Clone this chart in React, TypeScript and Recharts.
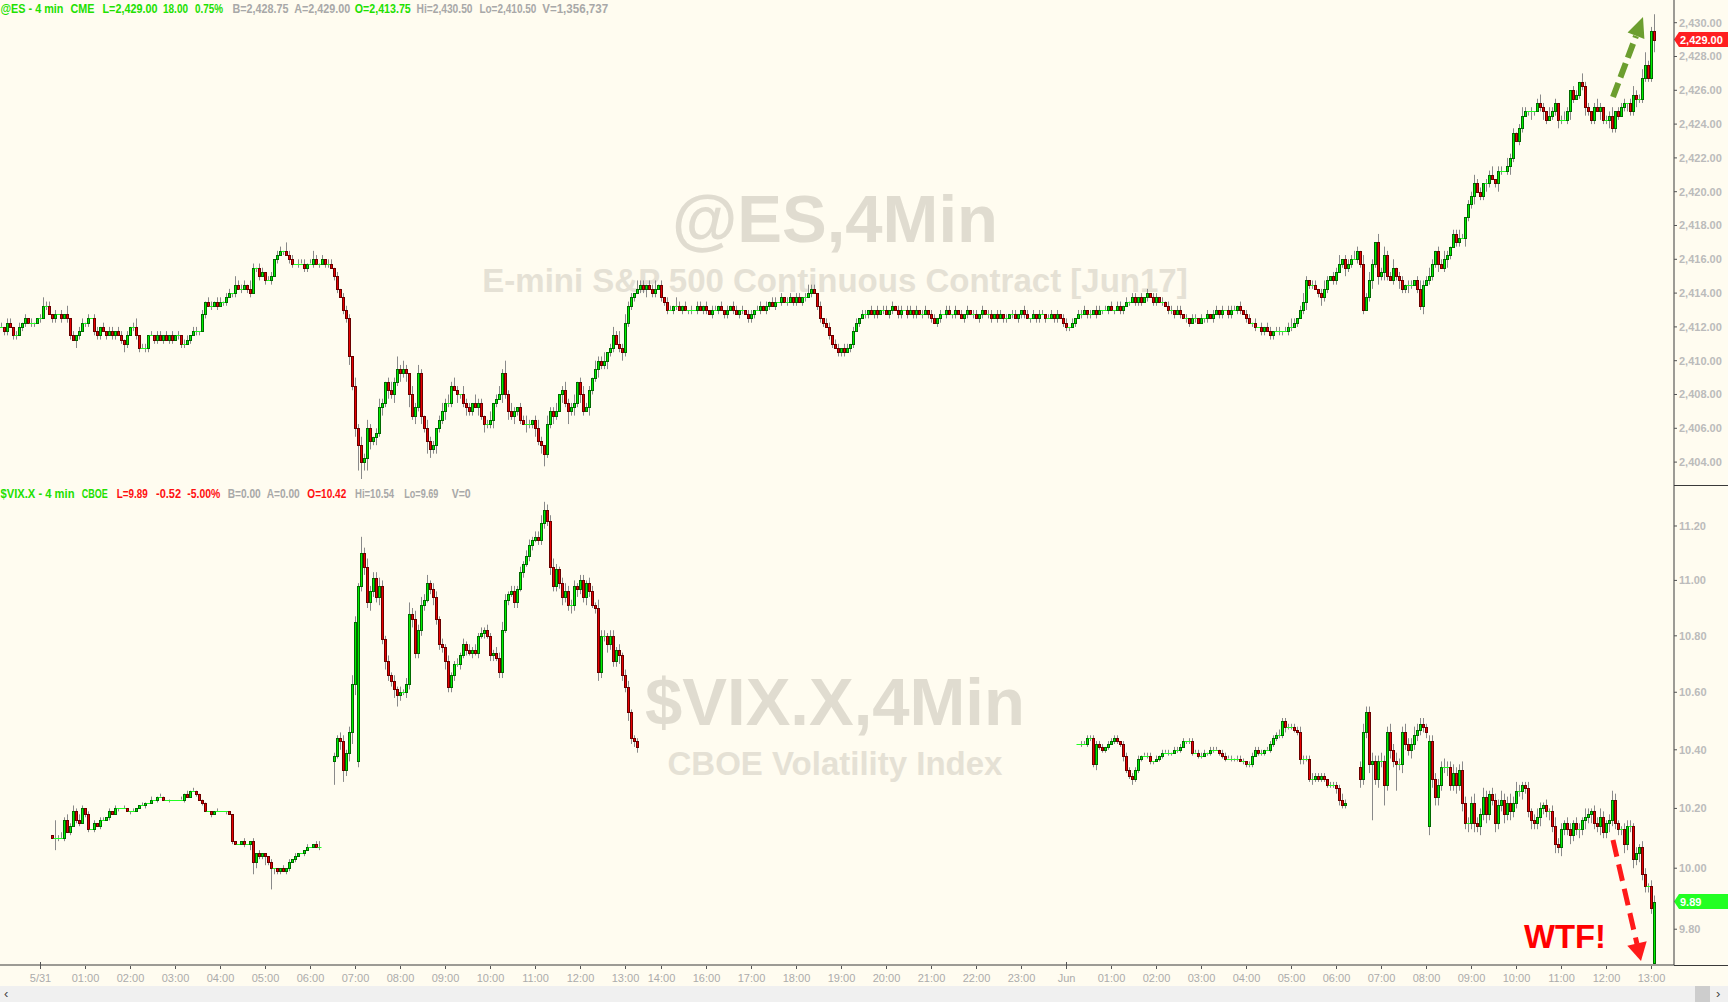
import React from 'react';
import { ComposedChart, Bar, XAxis, YAxis, ReferenceLine } from 'recharts';

// ---------------- DATA ----------------
// time slots: one slot = one 4-minute bar; slot 0 = 5/31 00:00
const xTickSlots = [0, 15, 30, 45, 60, 75, 90, 105, 120, 135, 150, 165, 180, 195, 207, 222, 237, 252, 267, 282, 297, 312, 327, 342, 357, 372, 387, 402, 417, 432, 447, 462, 477, 492, 507, 522, 537];
const xTickLabels = ['5/31', '01:00', '02:00', '03:00', '04:00', '05:00', '06:00', '07:00', '08:00', '09:00', '10:00', '11:00', '12:00', '13:00', '14:00', '16:00', '17:00', '18:00', '19:00', '20:00', '21:00', '22:00', '23:00', 'Jun', '01:00', '02:00', '03:00', '04:00', '05:00', '06:00', '07:00', '08:00', '09:00', '10:00', '11:00', '12:00', '13:00'];
const dayTickLabels = ['5/31', 'Jun'];

const esTicks = [2404, 2406, 2408, 2410, 2412, 2414, 2416, 2418, 2420, 2422, 2424, 2426, 2428, 2430];
const vixTicks = [9.8, 10.0, 10.2, 10.4, 10.6, 10.8, 11.0, 11.2];

// @ES 4-min bars: closes (open = previous close), wicks in 0.25 ticks
const esFirstSlot = -13;
const esFirstOpen = 2412.0;
const esClose = [
  2412, 2411.75, 2412.25, 2412, 2411.5, 2411.5, 2412, 2412.25, 2412.5, 2412.25,
  2412.25, 2412.25, 2412.5, 2412.5, 2413.25, 2413.25, 2412.75, 2412.5, 2412.75, 2412.75,
  2412.5, 2412.75, 2412.5, 2411.5, 2411.25, 2411.5, 2411.75, 2412.25, 2412.25, 2412.5,
  2412.5, 2411.75, 2411.5, 2412, 2411.75, 2411.5, 2411.75, 2411.5, 2411.75, 2411.5,
  2411.25, 2411, 2411.5, 2412, 2412, 2411.5, 2410.75, 2410.75, 2410.75, 2411.5,
  2411.5, 2411.25, 2411.5, 2411.25, 2411.5, 2411.25, 2411.5, 2411.25, 2411.5, 2411.5,
  2411, 2411, 2411.25, 2411.5, 2411.75, 2411.75, 2411.75, 2412.75, 2413.5, 2413.25,
  2413.25, 2413.5, 2413.25, 2413.5, 2413.5, 2413.75, 2414, 2414, 2414.5, 2414.25,
  2414.25, 2414.5, 2414.25, 2414, 2415.5, 2415.5, 2415, 2415.25, 2414.75, 2414.75,
  2415, 2416, 2416.25, 2416.5, 2416.5, 2416.25, 2416, 2415.75, 2415.75, 2415.75,
  2415.75, 2415.5, 2415.75, 2415.75, 2416, 2415.75, 2415.75, 2416, 2415.75, 2415.75,
  2415.5, 2415, 2414.25, 2413.75, 2413, 2412.5, 2410.25, 2408.5, 2406, 2405,
  2404, 2404.25, 2406, 2405.25, 2405.5, 2405.75, 2407.25, 2407.5, 2408.75, 2408.25,
  2408, 2408.75, 2409.5, 2409.25, 2409.5, 2409.25, 2408, 2406.75, 2407.25, 2409.25,
  2406.75, 2406, 2405.25, 2404.75, 2405, 2406, 2406.5, 2407, 2407.5, 2407.5,
  2408.5, 2408.25, 2408, 2408, 2407.5, 2407.25, 2407, 2407.5, 2407.25, 2407.5,
  2406.75, 2406.25, 2406.25, 2406.5, 2407.5, 2407.75, 2408, 2409.25, 2408, 2407,
  2406.75, 2407, 2407.25, 2406.5, 2406.25, 2406.25, 2406.25, 2406.5, 2406, 2405.25,
  2405, 2404.5, 2406.25, 2407, 2406.75, 2407, 2408, 2408.25, 2407.5, 2407,
  2407.25, 2407.5, 2408.75, 2408, 2407, 2407.25, 2408.25, 2409, 2409.5, 2410,
  2409.75, 2410, 2410.5, 2410.75, 2411.5, 2411, 2410.75, 2410.5, 2412.25, 2413.25,
  2413.75, 2414, 2414.25, 2414.5, 2414.25, 2414.5, 2414.25, 2414, 2414.25, 2414.5,
  2413.75, 2413.5, 2413, 2413, 2413.25, 2413.25, 2413, 2413.25, 2413, 2413,
  2413, 2413, 2413.25, 2413, 2413.25, 2413, 2412.75, 2413, 2413, 2413.25,
  2413, 2412.75, 2413, 2413.25, 2413, 2412.75, 2413, 2413, 2412.75, 2412.5,
  2412.75, 2413, 2413, 2413.25, 2413, 2413.25, 2413.5, 2413.25, 2413.5, 2413.5,
  2413.75, 2413.5, 2413.5, 2413.75, 2413.5, 2413.75, 2413.5, 2413.75, 2413.75, 2414,
  2414.25, 2414, 2413.25, 2412.5, 2412.25, 2412, 2411.5, 2411, 2410.75, 2410.5,
  2410.75, 2410.5, 2410.75, 2411, 2411.75, 2412.25, 2412.5, 2412.75, 2412.75, 2413,
  2412.75, 2413, 2412.75, 2413, 2413, 2412.75, 2413, 2413.25, 2413, 2412.75,
  2413, 2413, 2412.75, 2413, 2412.75, 2413, 2412.75, 2412.75, 2413, 2412.75,
  2412.5, 2412.25, 2412.5, 2412.75, 2412.75, 2413, 2412.75, 2412.75, 2413, 2412.75,
  2412.5, 2412.75, 2413, 2412.75, 2412.75, 2412.5, 2412.75, 2413, 2412.75, 2412.75,
  2412.5, 2412.75, 2412.5, 2412.75, 2412.5, 2412.5, 2412.75, 2412.75, 2412.5, 2412.75,
  2413, 2412.75, 2412.5, 2412.5, 2412.75, 2412.5, 2412.75, 2412.75, 2412.5, 2412.5,
  2412.75, 2412.5, 2412.75, 2412.5, 2412.25, 2412, 2412, 2412.25, 2412.5, 2412.75,
  2412.75, 2413, 2412.75, 2412.75, 2413, 2412.75, 2413, 2413, 2413, 2413.25,
  2413, 2413, 2413.25, 2413, 2413.25, 2413.5, 2413.5, 2413.75, 2413.5, 2413.75,
  2413.5, 2413.75, 2414, 2413.75, 2413.5, 2413.75, 2413.5, 2413.5, 2413.25, 2413,
  2413, 2412.75, 2413, 2412.75, 2412.5, 2412.5, 2412.25, 2412.5, 2412.5, 2412.25,
  2412.5, 2412.5, 2412.75, 2412.5, 2412.75, 2413, 2412.75, 2413, 2413, 2412.75,
  2413, 2413, 2413.25, 2413, 2412.75, 2412.5, 2412.25, 2412.25, 2412, 2412,
  2411.75, 2412, 2411.75, 2411.5, 2411.75, 2411.75, 2411.75, 2411.75, 2411.75, 2412,
  2412, 2412.25, 2412.5, 2413, 2413.5, 2414.75, 2414.5, 2414.5, 2414.25, 2414,
  2413.75, 2414.25, 2414.75, 2415, 2414.75, 2415.25, 2415.75, 2416, 2415.5, 2415.75,
  2416, 2416, 2416.5, 2415.75, 2413, 2413.75, 2414.75, 2415.75, 2417, 2415,
  2415.25, 2416.25, 2415, 2414.75, 2415.5, 2415, 2414.75, 2414.25, 2414.5, 2414.5,
  2414.5, 2414.75, 2414.25, 2413.25, 2414.5, 2414.75, 2415, 2415.75, 2416.5, 2415.75,
  2415.5, 2416, 2416.25, 2416.75, 2417.5, 2417, 2417.25, 2417.25, 2418.5, 2419.25,
  2419.75, 2420.5, 2420, 2419.75, 2420.5, 2420.5, 2421, 2420.75, 2420.5, 2421.25,
  2421.25, 2421.25, 2421.5, 2422, 2423.5, 2423, 2423.75, 2424.5, 2424.75, 2424.75,
  2424.75, 2424.75, 2425.25, 2425, 2424.75, 2424.25, 2424.5, 2424.75, 2425.25, 2424.25,
  2424.25, 2424.25, 2424.75, 2426, 2425.5, 2425.75, 2426.5, 2426.25, 2425, 2424.75,
  2424.25, 2425, 2424.75, 2425, 2424.25, 2424.25, 2424.5, 2423.75, 2424.75, 2424.5,
  2425, 2425.25, 2425.25, 2424.75, 2425.75, 2425.5, 2425.5, 2426.75, 2427.5, 2426.75,
  2429.5, 2429,
];
const esWickUp = [
  1, 0, 1, 1, 0, 1, 1, 0, 1, 0, 1, 0, 0, 1, 2, 1, 1, 0, 1, 0,
  1, 0, 2, 0, 1, 0, 1, 1, 0, 1, 0, 1, 1, 0, 1, 0, 1, 1, 0, 1,
  1, 0, 1, 0, 1, 2, 0, 1, 1, 0, 1, 0, 1, 1, 0, 1, 0, 1, 0, 1,
  0, 1, 1, 0, 1, 1, 0, 1, 0, 1, 1, 0, 1, 1, 0, 1, 1, 0, 2, 1,
  1, 1, 0, 2, 1, 0, 1, 1, 0, 1, 1, 0, 1, 1, 0, 2, 1, 1, 0, 1,
  1, 1, 0, 1, 2, 1, 0, 1, 0, 1, 1, 0, 1, 0, 1, 1, 1, 0, 2, 1,
  2, 1, 2, 1, 0, 1, 2, 1, 0, 1, 2, 1, 3, 1, 2, 1, 0, 2, 1, 2,
  1, 0, 2, 1, 1, 0, 1, 2, 1, 2, 1, 2, 1, 0, 2, 1, 1, 0, 2, 1,
  1, 0, 1, 2, 0, 1, 2, 1, 3, 1, 2, 1, 0, 1, 1, 2, 1, 0, 1, 2,
  1, 0, 2, 1, 1, 2, 0, 1, 2, 1, 1, 2, 0, 1, 2, 1, 1, 0, 2, 1,
  1, 2, 0, 1, 2, 1, 3, 1, 2, 1, 1, 0, 2, 1, 1, 0, 1, 1, 2, 0,
  1, 0, 1, 1, 0, 2, 1, 0, 1, 0, 1, 0, 1, 1, 0, 1, 0, 1, 1, 0,
  1, 0, 1, 0, 1, 1, 0, 1, 0, 1, 1, 0, 1, 1, 0, 1, 0, 1, 1, 0,
  1, 0, 1, 1, 0, 1, 1, 0, 1, 2, 1, 1, 0, 1, 0, 1, 1, 0, 1, 1,
  0, 1, 1, 0, 1, 1, 0, 1, 1, 0, 1, 0, 1, 0, 1, 1, 0, 1, 0, 1,
  1, 0, 1, 1, 0, 1, 0, 1, 1, 0, 1, 1, 0, 1, 0, 1, 1, 0, 1, 0,
  1, 0, 1, 0, 1, 1, 0, 1, 0, 1, 1, 0, 1, 1, 0, 1, 0, 1, 1, 0,
  0, 1, 1, 0, 1, 0, 1, 1, 0, 1, 1, 0, 1, 0, 1, 1, 0, 1, 0, 1,
  1, 1, 0, 1, 0, 1, 1, 0, 1, 0, 1, 0, 1, 1, 0, 1, 0, 1, 1, 0,
  1, 0, 1, 0, 1, 1, 0, 1, 0, 1, 1, 0, 1, 1, 0, 1, 0, 1, 1, 0,
  1, 0, 1, 0, 1, 1, 0, 1, 0, 1, 1, 1, 0, 1, 0, 1, 1, 0, 1, 0,
  1, 0, 1, 1, 0, 1, 1, 0, 1, 1, 2, 1, 0, 1, 2, 1, 0, 1, 1, 0,
  1, 2, 1, 0, 1, 1, 2, 0, 1, 1, 1, 2, 1, 0, 2, 1, 2, 1, 0, 2,
  1, 2, 1, 1, 2, 0, 1, 1, 0, 1, 1, 0, 1, 2, 1, 1, 2, 1, 0, 1,
  1, 2, 1, 0, 1, 1, 2, 1, 0, 1, 1, 2, 1, 1, 0, 1, 1, 2, 0, 1,
  1, 0, 2, 1, 1, 0, 1, 2, 1, 0, 1, 0, 1, 2, 1, 0, 2, 1, 1, 0,
  1, 2, 1, 0, 1, 1, 0, 2, 1, 1, 0, 1, 2, 1, 0, 1, 1, 2, 0, 1,
  1, 1, 0, 1, 2, 1, 1, 2, 3, 1, 1, 4,
];
const esWickDn = [
  0, 1, 1, 0, 1, 1, 0, 1, 1, 0, 1, 1, 0, 1, 0, 1, 0, 1, 1, 0,
  1, 0, 1, 1, 0, 2, 1, 0, 1, 1, 0, 1, 1, 1, 0, 1, 0, 1, 1, 0,
  1, 2, 1, 0, 1, 1, 1, 0, 1, 1, 0, 1, 1, 0, 1, 0, 1, 1, 0, 1,
  1, 1, 0, 1, 0, 1, 1, 0, 1, 0, 1, 0, 1, 0, 1, 1, 0, 1, 1, 0,
  1, 0, 1, 1, 0, 1, 1, 0, 1, 0, 1, 0, 1, 0, 1, 0, 1, 1, 0, 1,
  0, 1, 1, 0, 1, 0, 1, 0, 1, 1, 0, 1, 1, 0, 1, 1, 2, 1, 2, 6,
  4, 2, 3, 2, 1, 2, 1, 2, 1, 2, 1, 2, 1, 2, 1, 2, 3, 1, 2, 1,
  2, 1, 3, 2, 1, 2, 1, 1, 2, 1, 1, 0, 2, 1, 1, 2, 1, 1, 0, 2,
  1, 2, 1, 1, 2, 1, 0, 2, 1, 2, 1, 2, 1, 1, 0, 2, 1, 1, 2, 1,
  2, 3, 1, 1, 2, 1, 0, 2, 1, 3, 1, 2, 1, 2, 1, 0, 2, 1, 1, 2,
  1, 1, 2, 1, 1, 0, 1, 2, 1, 1, 1, 1, 0, 1, 1, 2, 0, 1, 1, 0,
  1, 1, 1, 0, 1, 1, 0, 1, 0, 1, 1, 0, 1, 0, 1, 1, 0, 1, 0, 1,
  0, 1, 1, 0, 1, 0, 1, 1, 0, 1, 1, 1, 0, 1, 0, 1, 1, 0, 1, 0,
  1, 0, 1, 0, 1, 1, 0, 1, 1, 0, 1, 0, 1, 1, 1, 0, 1, 1, 0, 1,
  1, 1, 0, 1, 1, 0, 1, 0, 1, 1, 0, 1, 1, 0, 1, 0, 1, 1, 0, 1,
  1, 0, 1, 0, 1, 1, 0, 1, 0, 1, 1, 0, 1, 1, 0, 1, 0, 1, 1, 0,
  0, 1, 1, 0, 1, 0, 1, 1, 0, 1, 1, 0, 1, 0, 1, 1, 0, 1, 0, 1,
  1, 1, 0, 1, 0, 1, 1, 0, 1, 0, 0, 1, 1, 0, 1, 1, 1, 0, 1, 0,
  1, 0, 1, 1, 0, 1, 0, 1, 0, 1, 0, 1, 0, 1, 1, 0, 1, 0, 1, 1,
  1, 0, 1, 0, 1, 1, 0, 1, 0, 1, 1, 1, 0, 1, 0, 1, 1, 0, 1, 0,
  0, 1, 1, 0, 1, 0, 1, 1, 0, 1, 1, 0, 1, 1, 0, 1, 0, 1, 1, 0,
  1, 1, 0, 1, 1, 0, 1, 1, 0, 1, 1, 0, 1, 0, 1, 2, 1, 1, 0, 1,
  2, 1, 1, 0, 1, 1, 0, 1, 2, 1, 1, 0, 1, 1, 1, 0, 1, 2, 1, 2,
  1, 2, 1, 0, 1, 1, 2, 1, 1, 2, 1, 0, 1, 1, 2, 0, 1, 1, 1, 2,
  0, 1, 2, 1, 0, 1, 1, 0, 2, 1, 1, 2, 0, 1, 1, 2, 1, 0, 1, 2,
  1, 0, 1, 2, 1, 0, 1, 1, 0, 1, 2, 1, 0, 1, 2, 1, 0, 1, 1, 2,
  1, 0, 1, 2, 1, 0, 1, 1, 2, 1, 1, 1, 0, 2, 1, 1, 2, 1, 1, 1,
  0, 1, 2, 1, 1, 2, 1, 1, 1, 1, 1, 3,
];

// $VIX.X 4-min bars in three sessions; wicks in cents
const vixStart1 = 4;
const vixClose1 = [
  10.10, 10.10, 10.10, 10.10, 10.16, 10.12, 10.14, 10.19, 10.16, 10.15,
  10.20, 10.18, 10.13, 10.13, 10.15, 10.14, 10.16, 10.16, 10.17, 10.19,
  10.18, 10.20, 10.20, 10.20, 10.20, 10.19, 10.19, 10.19, 10.20, 10.21,
  10.21, 10.22, 10.22, 10.23, 10.23, 10.24, 10.24, 10.23, 10.23, 10.23,
  10.23, 10.23, 10.23, 10.23, 10.25, 10.24, 10.26, 10.26, 10.25, 10.23,
  10.22, 10.19, 10.19, 10.18, 10.19, 10.19, 10.19, 10.19, 10.19, 10.18,
  10.09, 10.08, 10.08, 10.09, 10.08, 10.08, 10.09, 10.02, 10.05, 10.04,
  10.05, 10.04, 10.02, 10.00, 10.00, 9.99, 10.00, 9.99, 10.00, 10.02,
  10.03, 10.04, 10.05, 10.05, 10.06, 10.07, 10.07, 10.08, 10.07, 10.07,
];
const vixUp1 = [
  0, 6, 1, 2, 1, 2, 1, 2, 1, 2, 1, 0, 1, 0, 1, 0, 1, 1, 0, 1,
  0, 1, 0, 0, 1, 0, 0, 1, 0, 0, 1, 0, 0, 1, 0, 0, 1, 0, 0, 0,
  0, 0, 0, 1, 0, 1, 0, 1, 0, 0, 0, 0, 0, 0, 0, 1, 0, 0, 0, 0,
  0, 0, 0, 0, 1, 0, 0, 1, 0, 1, 0, 0, 0, 1, 0, 0, 0, 1, 0, 1,
  0, 1, 0, 0, 0, 1, 0, 0, 1, 2,
];
const vixDn1 = [
  0, 4, 1, 0, 1, 0, 1, 0, 1, 1, 0, 1, 1, 0, 1, 0, 1, 0, 0, 1,
  0, 0, 1, 0, 0, 0, 1, 0, 0, 0, 0, 1, 0, 0, 0, 1, 0, 0, 0, 1,
  0, 0, 0, 0, 1, 0, 0, 0, 1, 0, 1, 0, 0, 1, 0, 0, 0, 0, 1, 0,
  1, 0, 0, 0, 1, 0, 2, 4, 2, 1, 1, 3, 1, 7, 2, 1, 1, 0, 1, 1,
  0, 1, 0, 0, 1, 0, 0, 0, 0, 1,
];
const vixStart2 = 98;
const vixClose2 = [
  10.38, 10.44, 10.43, 10.33, 10.39, 10.46, 10.63, 10.85, 10.98, 11.10,
  11.05, 10.92, 10.96, 11.01, 10.94, 10.98, 10.79, 10.71, 10.66, 10.64,
  10.61, 10.59, 10.60, 10.60, 10.63, 10.88, 10.86, 10.74, 10.82, 10.91,
  10.93, 10.99, 10.97, 10.94, 10.86, 10.77, 10.76, 10.71, 10.62, 10.66,
  10.70, 10.70, 10.73, 10.77, 10.75, 10.74, 10.75, 10.74, 10.80, 10.81,
  10.82, 10.80, 10.73, 10.74, 10.72, 10.67, 10.82, 10.93, 10.95, 10.96,
  10.92, 10.97, 11.03, 11.06, 11.09, 11.13, 11.15, 11.16, 11.15, 11.21,
  11.26, 11.22, 11.05, 10.98, 11.04, 10.99, 10.94, 10.96, 10.91, 10.91,
  10.98, 10.97, 11.00, 10.94, 10.99, 10.96, 10.91, 10.90, 10.67, 10.80,
  10.80, 10.77, 10.80, 10.71, 10.75, 10.73, 10.66, 10.62, 10.53, 10.44,
  10.43, 10.41,
];
const vixUp2 = [
  1, 1, 2, 2, 1, 2, 3, 2, 1, 6, 2, 3, 2, 2, 2, 3, 2, 1, 2, 1,
  2, 1, 2, 1, 2, 4, 2, 3, 2, 3, 2, 3, 1, 2, 2, 1, 2, 1, 2, 1,
  1, 2, 1, 2, 1, 2, 1, 2, 1, 2, 1, 2, 1, 1, 2, 2, 3, 2, 1, 2,
  2, 1, 2, 1, 2, 2, 1, 2, 2, 3, 3, 2, 2, 3, 2, 1, 2, 3, 2, 2,
  2, 1, 2, 2, 1, 2, 2, 1, 3, 2, 2, 1, 2, 2, 1, 2, 1, 2, 2, 1,
  1, 1,
];
const vixDn2 = [
  8, 1, 3, 4, 2, 3, 4, 4, 2, 2, 3, 2, 3, 2, 2, 3, 2, 3, 2, 2,
  3, 4, 2, 1, 2, 2, 3, 2, 2, 2, 2, 1, 2, 3, 2, 2, 2, 3, 2, 2,
  2, 1, 2, 1, 2, 1, 2, 1, 2, 1, 2, 1, 2, 2, 1, 2, 2, 1, 2, 1,
  2, 2, 1, 2, 1, 2, 2, 1, 2, 2, 2, 2, 3, 2, 2, 2, 3, 2, 2, 3,
  2, 3, 2, 2, 3, 2, 1, 2, 3, 2, 2, 3, 2, 2, 2, 3, 2, 2, 3, 2,
  2, 2,
];
const vixStart3 = 346;
const vixClose3 = [
  10.42, 10.42, 10.42, 10.44, 10.44, 10.35, 10.42, 10.41, 10.40, 10.41,
  10.42, 10.43, 10.44, 10.43, 10.42, 10.38, 10.33, 10.31, 10.30, 10.33,
  10.37, 10.38, 10.38, 10.38, 10.36, 10.36, 10.37, 10.38, 10.39, 10.39,
  10.39, 10.39, 10.40, 10.40, 10.41, 10.43, 10.43, 10.43, 10.39, 10.39,
  10.38, 10.38, 10.39, 10.39, 10.40, 10.40, 10.40, 10.39, 10.38, 10.37,
  10.37, 10.37, 10.37, 10.37, 10.36, 10.36, 10.35, 10.35, 10.38, 10.40,
  10.39, 10.39, 10.40, 10.40, 10.42, 10.44, 10.45, 10.45, 10.50, 10.48,
  10.48, 10.48, 10.47, 10.46, 10.37, 10.37, 10.37, 10.30, 10.30, 10.31,
  10.30, 10.31, 10.30, 10.28, 10.28, 10.28, 10.27, 10.23, 10.21, 10.22,
  null, null, null, null, 10.30, 10.46, 10.53, 10.35, 10.36, 10.30,
  10.36, 10.36, 10.28, 10.46, 10.40, 10.36, 10.35, 10.35, 10.46, 10.42,
  10.40, 10.42, 10.45, 10.47, 10.49, 10.48, 10.46, 10.43, 10.30, 10.24,
  10.28, 10.34, 10.34, 10.34, 10.28, 10.32, 10.28, 10.33, 10.22, 10.15,
  10.15, 10.22, 10.15, 10.14, 10.18, 10.24, 10.18, 10.25, 10.23, 10.15,
  10.21, 10.23, 10.18, 10.22, 10.19, 10.22, 10.26, 10.26, 10.28, 10.27,
  10.19, 10.16, 10.15, 10.17, 10.20, 10.21, 10.19, 10.19, 10.14, 10.08,
  10.07, 10.13, 10.15, 10.13, 10.11, 10.15, 10.13, 10.13, 10.16, 10.17,
  10.18, 10.19, 10.15, 10.14, 10.17, 10.12, 10.15, 10.16, 10.23, 10.15,
  10.13, 10.13, 10.08, 10.14, 10.14, 10.03, 10.05, 10.07, 9.98, 9.94,
  9.94, 9.87, 9.89,
];
const vixUp3 = [
  0, 1, 1, 1, 1, 1, 1, 1, 1, 0, 1, 1, 1, 1, 0, 1, 1, 1, 1, 1,
  1, 0, 1, 1, 1, 0, 1, 0, 1, 1, 1, 0, 1, 1, 1, 1, 0, 1, 1, 1,
  1, 1, 1, 0, 1, 1, 1, 0, 1, 1, 1, 1, 0, 1, 1, 1, 0, 1, 1, 1,
  1, 1, 0, 1, 1, 1, 1, 2, 1, 1, 1, 1, 1, 1, 2, 1, 1, 1, 2, 1,
  1, 1, 1, 0, 1, 1, 1, 1, 2, 1, 0, 0, 0, 0, 2, 3, 2, 2, 3, 2,
  2, 3, 2, 2, 3, 2, 3, 2, 2, 3, 2, 2, 3, 2, 2, 2, 1, 2, 2, 2,
  2, 2, 3, 2, 2, 3, 2, 2, 3, 2, 2, 2, 3, 2, 2, 3, 2, 1, 2, 2,
  2, 3, 2, 2, 3, 2, 3, 2, 1, 1, 2, 1, 2, 3, 2, 1, 2, 1, 2, 3,
  2, 2, 1, 2, 2, 1, 2, 2, 1, 3, 2, 1, 2, 2, 3, 2, 1, 2, 3, 2,
  1, 1, 2, 2, 2, 1, 2, 1, 2, 2, 1, 2, 2,
];
const vixDn3 = [
  0, 1, 0, 1, 1, 1, 2, 1, 1, 1, 1, 0, 1, 1, 1, 2, 1, 1, 2, 1,
  1, 1, 0, 1, 1, 1, 0, 1, 1, 0, 1, 1, 0, 1, 1, 0, 1, 1, 1, 0,
  1, 1, 0, 1, 1, 1, 0, 1, 1, 1, 0, 1, 1, 1, 0, 1, 1, 1, 1, 0,
  1, 1, 1, 0, 1, 1, 1, 1, 1, 2, 1, 1, 1, 1, 2, 2, 1, 1, 2, 1,
  1, 1, 1, 1, 1, 1, 2, 2, 1, 1, 0, 0, 0, 0, 3, 2, 2, 3, 19, 2,
  3, 2, 7, 2, 3, 2, 9, 2, 3, 2, 2, 3, 2, 2, 2, 2, 2, 3, 3, 3,
  3, 2, 2, 3, 2, 2, 3, 2, 3, 2, 3, 2, 3, 2, 3, 2, 3, 2, 2, 3,
  2, 2, 3, 2, 3, 2, 2, 2, 3, 2, 2, 3, 2, 2, 3, 2, 2, 3, 2, 3,
  2, 3, 2, 2, 3, 2, 2, 3, 2, 3, 2, 3, 2, 2, 3, 2, 2, 3, 2, 2,
  2, 2, 3, 2, 2, 3, 2, 3, 2, 2, 2, 2, 0,
];
// bars whose open gapped away from the previous close
const vixGapOpens: Record<number, number> = { 4: 10.11, 98: 10.36, 106: 10.36, 346: 10.42, 440: 10.34, 463: 10.14, 538: 9.69 };

const esLast = 2429.0;
const vixLast = 9.89;
const esHeaderTexts = ['@ES - 4 min', 'CME', 'L=2,429.00', '18.00', '0.75%', 'B=2,428.75', 'A=2,429.00', 'O=2,413.75', 'Hi=2,430.50', 'Lo=2,410.50', 'V=1,356,737'];
const esHeaderKinds = ['up', 'up', 'up', 'up', 'up', 'info', 'info', 'up', 'info', 'info', 'info'];
const vixHeaderTexts = ['$VIX.X - 4 min', 'CBOE', 'L=9.89', '-0.52', '-5.00%', 'B=0.00', 'A=0.00', 'O=10.42', 'Hi=10.54', 'Lo=9.69', 'V=0'];
const vixHeaderKinds = ['up', 'up', 'down', 'down', 'down', 'info', 'info', 'down', 'info', 'info', 'info'];

// ---------------- LAYOUT / STYLE ----------------
const FONT = "'Liberation Sans', Arial, Helvetica, sans-serif";
const BG = '#FFFCF0';
const GREEN = '#00F000';
const GREEN_EDGE = '#006A00';
const RED = '#E80000';
const RED_EDGE = '#6A0000';
const WICK = '#8A8A8A';
const DOJI = '#22FF22';
const AXIS = '#3A3A3A';
const TICK_TEXT = '#BBBBBB';
const HDR = { up: '#22E000', down: '#FF1010', info: '#A8A8A8' } as Record<string, string>;

const PANE_SPLIT = 485;
const SLOT_FIRST = -13;
const SLOT_LAST = 544;
const ES_DOMAIN = [2402.645, 2431.343];
const VIX_DOMAIN = [9.6846, 11.3531];
const esHeaderX = [0.5, 70.5, 102.5, 163, 195, 232.5, 294.2, 354.8, 416.5, 479.4, 542.2];
const esHeaderW = [63, 24, 55, 25, 28, 56, 56, 56, 56, 57, 66];
const vixHeaderX = [0.5, 81.7, 116.7, 156, 187.3, 227.7, 266.7, 307.3, 355, 404.3, 451.7];
const vixHeaderW = [74, 26, 31, 25, 33, 33, 33, 39, 39, 34, 19];

type Candle = { o: number; h: number; l: number; c: number };

function buildEs(): Map<number, Candle> {
  const m = new Map<number, Candle>();
  let prev = esFirstOpen;
  esClose.forEach((c, i) => {
    const o = prev;
    const h = Math.max(o, c) + (esWickUp[i] ?? 0) * 0.25;
    const l = Math.min(o, c) - (esWickDn[i] ?? 0) * 0.25;
    m.set(esFirstSlot + i, { o, h, l, c });
    prev = c;
  });
  return m;
}

function buildVix(): Map<number, Candle> {
  const m = new Map<number, Candle>();
  const segs = [
    { start: vixStart1, close: vixClose1 as (number | null)[], up: vixUp1, dn: vixDn1 },
    { start: vixStart2, close: vixClose2 as (number | null)[], up: vixUp2, dn: vixDn2 },
    { start: vixStart3, close: vixClose3 as (number | null)[], up: vixUp3, dn: vixDn3 },
  ];
  segs.forEach((seg) => {
    let prev: number | null = null;
    seg.close.forEach((c, i) => {
      if (c == null) return;
      const s = seg.start + i;
      const o = vixGapOpens[s] ?? prev ?? c;
      const h = +(Math.max(o, c) + (seg.up[i] ?? 0) / 100).toFixed(2);
      const l = +(Math.min(o, c) - (seg.dn[i] ?? 0) / 100).toFixed(2);
      m.set(s, { o, h, l, c });
      prev = c;
    });
  });
  return m;
}

const esMap = buildEs();
const vixMap = buildVix();
const rows: { s: number; es: Candle | null; vix: Candle | null }[] = [];
for (let s = SLOT_FIRST; s <= SLOT_LAST; s++) {
  rows.push({ s, es: esMap.get(s) ?? null, vix: vixMap.get(s) ?? null });
}

const makeCandleShape = (field: 'es' | 'vix', logScale: boolean) => (props: any) => {
  const { x, y, width, height, payload } = props;
  const d: Candle | null = payload ? payload[field] : null;
  if (!d || ![x, y, width, height].every((v) => Number.isFinite(v))) return <g />;
  const f = logScale ? Math.log : (v: number) => v;
  const top = Math.min(y, y + height);
  const bot = Math.max(y, y + height);
  const span = f(d.h) - f(d.l);
  const py = (v: number) => (span > 0 ? top + ((f(d.h) - f(v)) / span) * (bot - top) : top);
  const cx = Math.floor(x + width / 2) + 0.5;
  const yo = py(d.o);
  const yc = py(d.c);
  const wick = bot - top > 0.5 ? <line x1={cx} x2={cx} y1={top} y2={bot} stroke={WICK} strokeWidth={1} /> : null;
  if (d.o === d.c) {
    const yy = Math.round(yc) + 0.5;
    return (
      <g>
        {wick}
        <line x1={cx - 2} x2={cx + 2} y1={yy} y2={yy} stroke={DOJI} strokeWidth={1} />
      </g>
    );
  }
  const up = d.c > d.o;
  const y1 = Math.round(Math.min(yo, yc)) + 0.5;
  const y2 = Math.max(Math.round(Math.max(yo, yc)) + 0.5, y1 + 1);
  return (
    <g>
      {wick}
      <rect x={cx - 1} y={y1} width={2} height={y2 - y1} fill={up ? GREEN : RED} stroke={up ? GREEN_EDGE : RED_EDGE} strokeWidth={1} />
    </g>
  );
};

const esShape = makeCandleShape('es', false);
const vixShape = makeCandleShape('vix', true);

const fmtEs = (v: number) => v.toLocaleString('en-US', { minimumFractionDigits: 2, maximumFractionDigits: 2 });
const fmtVix = (v: number) => v.toFixed(2);

const makeTag = (text: string, color: string) => (props: any) => {
  const vb = props.viewBox || {};
  const X = (vb.x ?? 0) + (vb.width ?? 0);
  const Y = vb.y ?? 0;
  return (
    <g>
      <polygon points={`${X},${Y} ${X + 5},${Y - 7.5} ${1728},${Y - 7.5} ${1728},${Y + 7.5} ${X + 5},${Y + 7.5}`} fill={color} />
      <text x={X + 6} y={Y + 4} fill="#FFFFFF" fontSize={11} fontWeight={700} fontFamily={FONT}>
        {text}
      </text>
    </g>
  );
};

const XTick = (props: any) => {
  const { x, y, payload } = props;
  const idx = xTickSlots.indexOf(payload.value);
  if (idx < 0) return <g />;
  const label = xTickLabels[idx];
  const isDay = dayTickLabels.includes(label);
  const lx = Math.floor(x) + 0.5;
  return (
    <g>
      <line x1={lx} x2={lx} y1={isDay ? y - 3 : y + 1} y2={y + 4} stroke="#555555" strokeWidth={1} />
      <text x={x} y={y + 16.5} textAnchor="middle" fill="#ABABAB" fontSize={11} fontFamily={FONT}>
        {label}
      </text>
    </g>
  );
};

export default function App() {
  return (
    <div style={{ position: 'fixed', left: 0, top: 0, width: 1728, height: 1002, background: BG, overflow: 'hidden', fontFamily: FONT }}>
      {/* watermarks */}
      <svg width={1728} height={1002} style={{ position: 'absolute', left: 0, top: 0 }}>
        <text x={835} y={241.5} textAnchor="middle" fontSize={67} fontWeight={700} fill="#E0DCD0" fontFamily={FONT}>@ES,4Min</text>
        <text x={835} y={292} textAnchor="middle" fontSize={33} fontWeight={700} fill="#E5E1D5" fontFamily={FONT}>E-mini S&amp;P 500 Continuous Contract [Jun17]</text>
        <text x={835} y={725} textAnchor="middle" fontSize={67} fontWeight={700} fill="#E0DCD0" fontFamily={FONT}>$VIX.X,4Min</text>
        <text x={835} y={774.5} textAnchor="middle" fontSize={33} fontWeight={700} fill="#E5E1D5" fontFamily={FONT}>CBOE Volatility Index</text>
      </svg>

      <div style={{ position: 'absolute', left: 0, top: 0 }}>
        <ComposedChart width={1728} height={PANE_SPLIT} data={rows} margin={{ top: 0, right: 0, bottom: 0, left: 0 }} barCategoryGap={0} barGap={0}>
          <XAxis dataKey="s" type="category" hide />
          <YAxis
            orientation="right"
            width={54}
            type="number"
            domain={ES_DOMAIN}
            allowDataOverflow
            ticks={esTicks}
            interval={0}
            tickFormatter={fmtEs}
            axisLine={{ stroke: AXIS }}
            tickLine={{ stroke: '#555555' }}
            tickSize={3}
            tickMargin={2}
            tick={{ fill: TICK_TEXT, fontSize: 11, fontWeight: 700, fontFamily: FONT }}
          />
          <Bar dataKey={(r: any) => (r.es ? [r.es.l, r.es.h] : null)} shape={esShape} isAnimationActive={false} />
          <ReferenceLine y={esLast} stroke="none" label={makeTag(fmtEs(esLast), '#FF1F1F')} />
        </ComposedChart>
      </div>

      <div style={{ position: 'absolute', left: 0, top: PANE_SPLIT }}>
        <ComposedChart width={1728} height={986 - PANE_SPLIT} data={rows} margin={{ top: 0, right: 0, bottom: 0, left: 0 }} barCategoryGap={0} barGap={0}>
          <XAxis
            dataKey="s"
            type="category"
            height={21}
            ticks={xTickSlots}
            interval={0}
            tickLine={false}
            tickSize={0}
            tickMargin={0}
            axisLine={{ stroke: AXIS }}
            tick={<XTick />}
          />
          <YAxis
            orientation="right"
            width={54}
            type="number"
            scale="log"
            domain={VIX_DOMAIN}
            allowDataOverflow
            ticks={vixTicks}
            interval={0}
            tickFormatter={fmtVix}
            axisLine={{ stroke: AXIS }}
            tickLine={{ stroke: '#555555' }}
            tickSize={3}
            tickMargin={2}
            tick={{ fill: TICK_TEXT, fontSize: 11, fontWeight: 700, fontFamily: FONT }}
          />
          <Bar dataKey={(r: any) => (r.vix ? [r.vix.l, r.vix.h] : null)} shape={vixShape} isAnimationActive={false} />
          <ReferenceLine y={vixLast} stroke="none" label={makeTag(fmtVix(vixLast), '#22FF22')} />
        </ComposedChart>
      </div>

      {/* lines on the axis column */}
      <div style={{ position: 'absolute', left: 1674, top: PANE_SPLIT, width: 54, height: 1, background: AXIS }} />
      <div style={{ position: 'absolute', left: 1674, top: 965, width: 54, height: 1, background: AXIS }} />

      {/* headers + annotations */}
      <svg width={1728} height={1002} style={{ position: 'absolute', left: 0, top: 0, pointerEvents: 'none' }}>
        {esHeaderTexts.map((t, i) => (
          <text key={'e' + i} x={esHeaderX[i]} y={12.5} fontSize={12} fontWeight={700} textLength={esHeaderW[i]} lengthAdjust="spacingAndGlyphs" fill={HDR[esHeaderKinds[i]]} fontFamily={FONT}>{t}</text>
        ))}
        {vixHeaderTexts.map((t, i) => (
          <text key={'v' + i} x={vixHeaderX[i]} y={497.5} fontSize={12} fontWeight={700} textLength={vixHeaderW[i]} lengthAdjust="spacingAndGlyphs" fill={HDR[vixHeaderKinds[i]]} fontFamily={FONT}>{t}</text>
        ))}
        {/* green arrow */}
        <line x1={1613} y1={97} x2={1636} y2={36} stroke="#6C9E2F" strokeWidth={6} strokeDasharray="15 6" />
        <polygon points="1643,17 1627.6,32.5 1644.4,38.9" fill="#6C9E2F" />
        {/* red arrow */}
        <line x1={1613} y1={840} x2={1637} y2={944} stroke="#FF1A1A" strokeWidth={5} strokeDasharray="17 8" />
        <polygon points="1641,961 1627.3,945.8 1646.7,941.2" fill="#FF1A1A" />
        <text x={1524} y={948} fontSize={34} fontWeight={700} fill="#FF0000" fontFamily={FONT} textLength={82} lengthAdjust="spacingAndGlyphs">WTF!</text>
      </svg>

      {/* scroll bar */}
      <div style={{ position: 'absolute', left: 0, top: 986, width: 1728, height: 16, background: '#F0F0F0' }} />
      <div style={{ position: 'absolute', left: 1695, top: 986, width: 15, height: 16, background: '#CDCDCD' }} />
      <div style={{ position: 'absolute', left: 4, top: 986, height: 16, lineHeight: '16px', fontSize: 13, color: '#444', fontFamily: FONT }}>‹</div>
      <div style={{ position: 'absolute', left: 1716, top: 986, height: 16, lineHeight: '16px', fontSize: 13, color: '#444', fontFamily: FONT }}>›</div>
    </div>
  );
}
